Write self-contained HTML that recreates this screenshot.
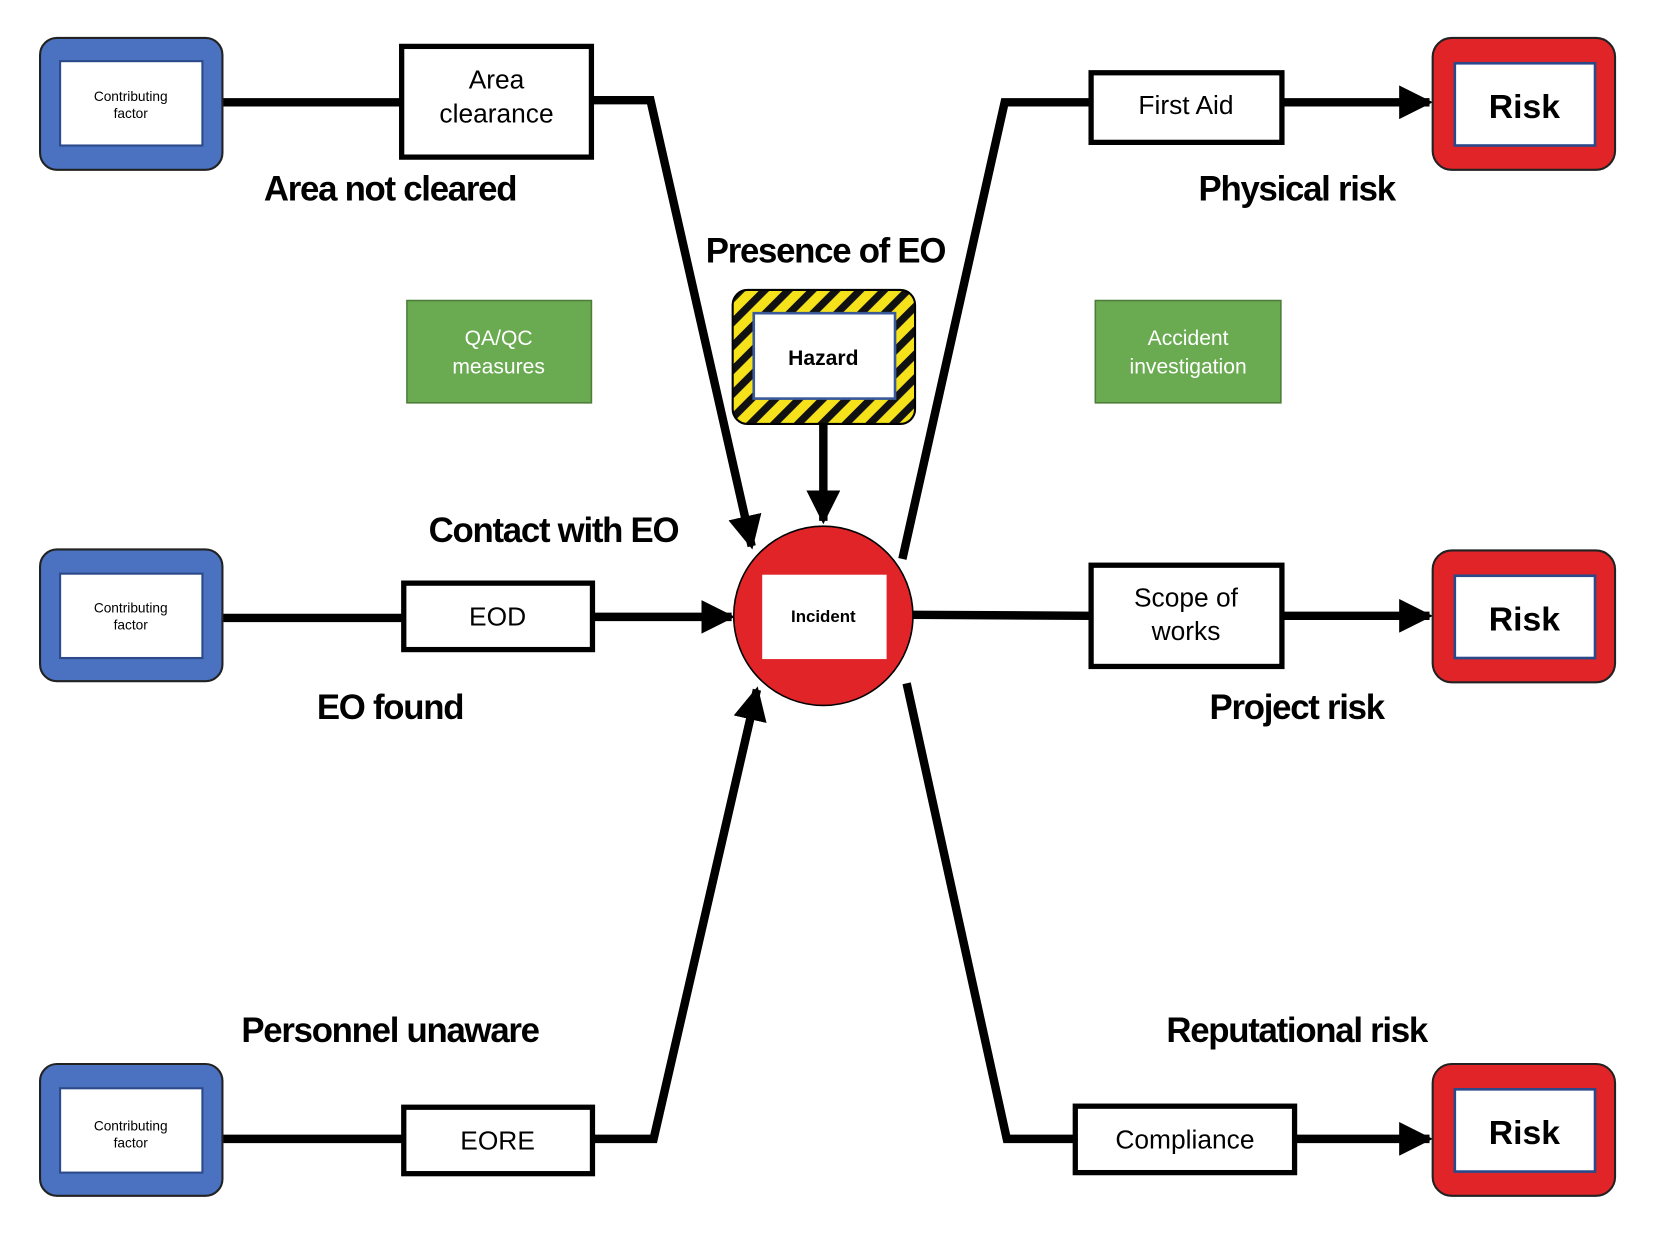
<!DOCTYPE html>
<html><head><meta charset="utf-8"><style>
html,body{margin:0;padding:0;background:#fff;}
svg{display:block;}
text{font-family:"Liberation Sans",sans-serif;}
.big{font-size:33px;font-weight:bold;letter-spacing:-1.2px;text-anchor:middle;}
.box{font-size:25px;text-anchor:middle;}
.cf{font-size:13px;text-anchor:middle;}
.g{font-size:20px;fill:#fff;text-anchor:middle;}
.risk{font-size:32px;font-weight:bold;text-anchor:middle;}
</style></head><body>
<svg width="1653" height="1238" viewBox="0 0 1568 1174" preserveAspectRatio="none" xmlns="http://www.w3.org/2000/svg">
<defs>
<pattern id="st" width="16" height="16" patternUnits="userSpaceOnUse" patternTransform="rotate(45)">
<rect width="16" height="16" fill="#f5e21a"/><rect width="7" height="16" fill="#111"/>
</pattern>
<marker id="ar" viewBox="0 0 10 10" refX="9" refY="5" markerWidth="4" markerHeight="4" orient="auto" markerUnits="strokeWidth">
<path d="M0,0 L10,5 L0,10 z" fill="#000"/></marker>
</defs>
<g fill="none" stroke="#000" stroke-width="8">
<line x1="212" y1="97" x2="381" y2="97"/>
<polyline points="561,95 617,95 713,518" marker-end="url(#ar)"/>
<line x1="781" y1="402" x2="781" y2="494" marker-end="url(#ar)"/>
<line x1="212" y1="586" x2="383" y2="586"/>
<line x1="562" y1="585" x2="694" y2="585" marker-end="url(#ar)"/>
<line x1="212" y1="1080" x2="383" y2="1080"/>
<polyline points="562,1080 620,1080 718,654" marker-end="url(#ar)"/>
<polyline points="856,530 953,97 1035,97"/>
<line x1="1216" y1="97" x2="1356" y2="97" marker-end="url(#ar)"/>
<line x1="866" y1="583" x2="1035" y2="584"/>
<line x1="1216" y1="584" x2="1356" y2="584" marker-end="url(#ar)"/>
<polyline points="860,648 955,1080 1020,1080"/>
<line x1="1228" y1="1080" x2="1356" y2="1080" marker-end="url(#ar)"/>
</g>
<g>
<rect x="38" y="36" width="173" height="125" rx="16" fill="#4a72c0" stroke="#222" stroke-width="2"/>
<rect x="57" y="58" width="135" height="80" fill="#fff" stroke="#2c4a8a" stroke-width="2"/>
<text class="cf" x="124" y="96">Contributing</text><text class="cf" x="124" y="112">factor</text>
<rect x="38" y="521" width="173" height="125" rx="16" fill="#4a72c0" stroke="#222" stroke-width="2"/>
<rect x="57" y="544" width="135" height="80" fill="#fff" stroke="#2c4a8a" stroke-width="2"/>
<text class="cf" x="124" y="581">Contributing</text><text class="cf" x="124" y="597">factor</text>
<rect x="38" y="1009" width="173" height="125" rx="16" fill="#4a72c0" stroke="#222" stroke-width="2"/>
<rect x="57" y="1032" width="135" height="80" fill="#fff" stroke="#2c4a8a" stroke-width="2"/>
<text class="cf" x="124" y="1072">Contributing</text><text class="cf" x="124" y="1088">factor</text>
</g>
<g fill="#fff" stroke="#000" stroke-width="5">
<rect x="381" y="44" width="180" height="105"/>
<rect x="383" y="553" width="179" height="63"/>
<rect x="383" y="1050" width="179" height="63"/>
<rect x="1035" y="69" width="181" height="66"/>
<rect x="1035" y="536" width="181" height="96"/>
<rect x="1020" y="1049" width="208" height="63"/>
</g>
<text class="box" x="471" y="84">Area</text><text class="box" x="471" y="116">clearance</text>
<text class="box" x="472" y="593">EOD</text>
<text class="box" x="472" y="1090">EORE</text>
<text class="box" x="1125" y="108">First Aid</text>
<text class="box" x="1125" y="575">Scope of</text><text class="box" x="1125" y="607">works</text>
<text class="box" x="1124" y="1089">Compliance</text>
<rect x="386" y="285" width="175" height="97" fill="#6aab52" stroke="#4d7d3a" stroke-width="1.5"/>
<text class="g" x="473" y="327">QA/QC</text><text class="g" x="473" y="354">measures</text>
<rect x="1039" y="285" width="176" height="97" fill="#6aab52" stroke="#4d7d3a" stroke-width="1.5"/>
<text class="g" x="1127" y="327">Accident</text><text class="g" x="1127" y="354">investigation</text>
<rect x="695" y="275" width="173" height="127" rx="14" fill="url(#st)" stroke="#000" stroke-width="2"/>
<rect x="715" y="297" width="134" height="81" fill="#fff" stroke="#3a5a9a" stroke-width="2.5"/>
<text x="781" y="346" style="font-size:20px;font-weight:bold;text-anchor:middle">Hazard</text>
<circle cx="781" cy="584" r="85" fill="#e02428" stroke="#000" stroke-width="1.5"/>
<rect x="723" y="545" width="118" height="80" fill="#fff"/>
<text x="781" y="590" style="font-size:16px;font-weight:bold;text-anchor:middle">Incident</text>
<g>
<rect x="1359" y="36" width="173" height="125" rx="18" fill="#e02428" stroke="#222" stroke-width="2"/>
<rect x="1380" y="60" width="133" height="78" fill="#fff" stroke="#2c4a8a" stroke-width="2.5"/>
<text class="risk" x="1446" y="112">Risk</text>
<rect x="1359" y="522" width="173" height="125" rx="18" fill="#e02428" stroke="#222" stroke-width="2"/>
<rect x="1380" y="546" width="133" height="78" fill="#fff" stroke="#2c4a8a" stroke-width="2.5"/>
<text class="risk" x="1446" y="598">Risk</text>
<rect x="1359" y="1009" width="173" height="125" rx="18" fill="#e02428" stroke="#222" stroke-width="2"/>
<rect x="1380" y="1033" width="133" height="78" fill="#fff" stroke="#2c4a8a" stroke-width="2.5"/>
<text class="risk" x="1446" y="1085">Risk</text>
</g>
<text class="big" x="370" y="190">Area not cleared</text>
<text class="big" x="783" y="249">Presence of EO</text>
<text class="big" x="1230" y="190">Physical risk</text>
<text class="big" x="525" y="514">Contact with EO</text>
<text class="big" x="370" y="682">EO found</text>
<text class="big" x="1230" y="682">Project risk</text>
<text class="big" x="370" y="988">Personnel unaware</text>
<text class="big" x="1230" y="988">Reputational risk</text>
</svg>
</body></html>
